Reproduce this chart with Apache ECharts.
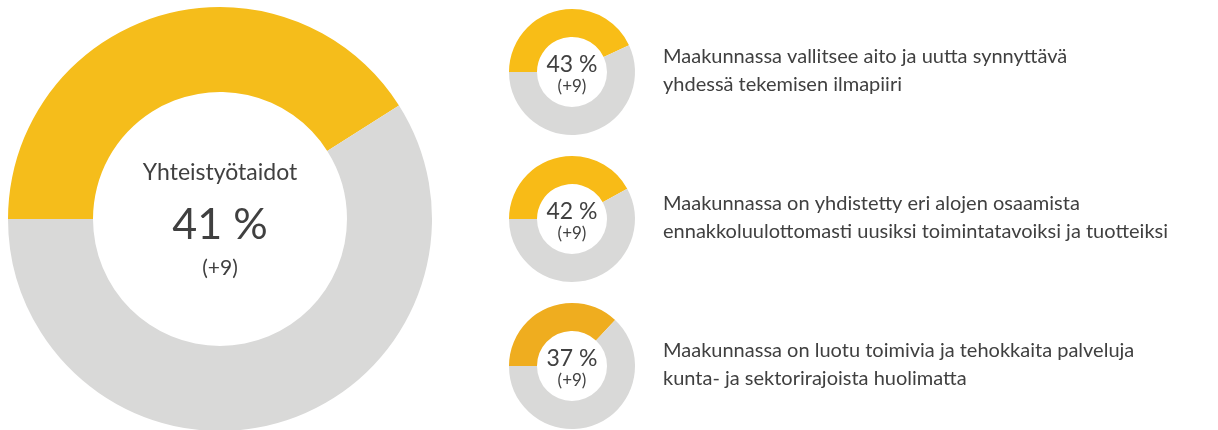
<!DOCTYPE html>
<html>
<head>
<meta charset="utf-8">
<script src="https://cdn.jsdelivr.net/npm/echarts@6/dist/echarts.min.js"></script>
<style>
html,body{margin:0;padding:0;background:#fff;}
#chart{width:1218px;height:430px;}
</style>
</head>
<body>
<div id="chart"></div>
<script>
// ---- data ----
var mainTitle = 'Yhteistyötaidot';
var mainValue = 41;
var mainChange = '+9';
var itemValues = [43, 42, 37];
var itemChanges = ['+9', '+9', '+9'];
var itemPctLabels = ['43 %', '42 %', '37 %'];
var itemTexts = [
  ['Maakunnassa vallitsee aito ja uutta synnyttävä', 'yhdessä tekemisen ilmapiiri'],
  ['Maakunnassa on yhdistetty eri alojen osaamista', 'ennakkoluulottomasti uusiksi toimintatavoiksi ja tuotteiksi'],
  ['Maakunnassa on luotu toimivia ja tehokkaita palveluja', 'kunta- ja sektorirajoista huolimatta']
];

// ---- styles ----
var FONT = 'Lato, "Noto Sans", sans-serif';
var TEXT = '#404040';
var GRAY = '#d9d9d8';
var mainColor = '#f5bd1b';
var itemColors = ['#f8bd17', '#f8bb17', '#efad1f'];

var chart = echarts.init(document.getElementById('chart'), null, {renderer: 'canvas'});

function donut(center, radius, value, color) {
  return {
    type: 'pie',
    center: center,
    radius: radius,
    startAngle: 180,
    clockwise: true,
    silent: true,
    animation: false,
    label: {show: false},
    labelLine: {show: false},
    emphasis: {disabled: true},
    itemStyle: {borderWidth: 0},
    data: [
      {value: value, itemStyle: {color: color}},
      {value: 100 - value, itemStyle: {color: GRAY}}
    ]
  };
}

var series = [donut([220, 219], [127, 212], mainValue, mainColor)];
var graphics = [
  {type: 'text', x: 220, y: 173, style: {text: mainTitle, font: '23px ' + FONT, fill: TEXT, textAlign: 'center', textVerticalAlign: 'middle'}},
  {type: 'text', x: 220, y: 225, style: {text: mainValue + ' %', font: '43px ' + FONT, fill: TEXT, textAlign: 'center', textVerticalAlign: 'middle'}},
  {type: 'text', x: 220, y: 268, style: {text: '(' + mainChange + ')', font: '21px ' + FONT, fill: TEXT, textAlign: 'center', textVerticalAlign: 'middle'}}
];

var smallCenters = [[572, 72], [572, 219], [572, 366]];
itemValues.forEach(function (v, i) {
  var c = smallCenters[i];
  series.push(donut(c, [35, 63], v, itemColors[i]));
  graphics.push({type: 'text', x: c[0], y: c[1] - 7, style: {text: itemPctLabels[i], font: '23px ' + FONT, fill: TEXT, textAlign: 'center', textVerticalAlign: 'middle'}});
  graphics.push({type: 'text', x: c[0], y: c[1] + 15, style: {text: '(' + itemChanges[i] + ')', font: '17px ' + FONT, fill: TEXT, textAlign: 'center', textVerticalAlign: 'middle'}});
  itemTexts[i].forEach(function (line, j) {
    graphics.push({type: 'text', x: 663, y: c[1] - 15 + j * 28, style: {text: line, font: '20px ' + FONT, fill: TEXT, textAlign: 'left', textVerticalAlign: 'middle'}});
  });
});

chart.setOption({
  animation: false,
  backgroundColor: '#ffffff',
  series: series,
  graphic: graphics
});
</script>
</body>
</html>
